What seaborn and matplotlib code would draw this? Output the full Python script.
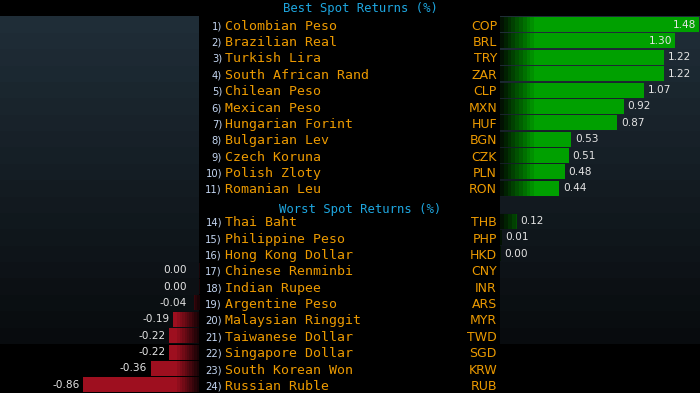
import numpy as np
import pandas as pd
import seaborn as sns
import matplotlib.pyplot as plt
from matplotlib.colors import to_rgb

best_ranks = list(range(1, 12))
best_names = ['Colombian Peso', 'Brazilian Real', 'Turkish Lira', 'South African Rand',
              'Chilean Peso', 'Mexican Peso', 'Hungarian Forint', 'Bulgarian Lev',
              'Czech Koruna', 'Polish Zloty', 'Romanian Leu']
best_codes = ['COP', 'BRL', 'TRY', 'ZAR', 'CLP', 'MXN', 'HUF', 'BGN', 'CZK', 'PLN', 'RON']
best_values = [1.48, 1.30, 1.22, 1.22, 1.07, 0.92, 0.87, 0.53, 0.51, 0.48, 0.44]

worst_ranks = list(range(14, 25))
worst_names = ['Thai Baht', 'Philippine Peso', 'Hong Kong Dollar', 'Chinese Renminbi',
               'Indian Rupee', 'Argentine Peso', 'Malaysian Ringgit', 'Taiwanese Dollar',
               'Singapore Dollar', 'South Korean Won', 'Russian Ruble']
worst_codes = ['THB', 'PHP', 'HKD', 'CNY', 'INR', 'ARS', 'MYR', 'TWD', 'SGD', 'KRW', 'RUB']
# HKD shows 0.00 on the plus side, CNY / INR show 0.00 on the minus side
worst_values = [0.12, 0.01, 0.003, -0.002, -0.003, -0.04, -0.19, -0.22, -0.22, -0.36, -0.86]

best_title = 'Best Spot Returns (%)'
worst_title = 'Worst Spot Returns (%)'

GREEN = '#00a000'
GREEN_DARK = '#021202'
RED = '#9e0f1f'
RED_DARK = '#1a0306'
ORANGE = '#ec9a00'
CYAN = '#1ea6df'
RANK_COL = '#c4d6f2'
VAL_COL = '#e4e4e4'
BAND_TOP = '#1f2d37'
BAND_BOTTOM = '#080b0e'

W, H = 700, 393
PX = 134.5  # pixels per 1 %

best_df = pd.DataFrame({'rank': best_ranks, 'name': best_names,
                        'code': best_codes, 'value': best_values})
best_df['slot'] = np.arange(len(best_df))
worst_df = pd.DataFrame({'rank': worst_ranks, 'name': worst_names,
                         'code': worst_codes, 'value': worst_values})
worst_df['slot'] = np.arange(len(worst_df)) + len(best_df) + 1
df = pd.concat([best_df, worst_df], ignore_index=True)

last_slot = df['slot'].max()
ylim = (last_slot + 0.5, -1.5)
n_bands = 20


def shade(ax, patch, x0, x1, c_from, c_to, steps=10):
    t = np.linspace(0, 1, steps)[:, None]
    cols = (1 - t) * np.array(to_rgb(c_from)) + t * np.array(to_rgb(c_to))
    y0, h = patch.get_y(), patch.get_height()
    im = ax.imshow(cols[None, :, :], extent=(x0, x1, y0 + h, y0), aspect='auto',
                   interpolation='nearest', zorder=patch.get_zorder() + 0.1)
    im.set_clip_path(patch)


def bands(ax):
    top, bot = np.array(to_rgb(BAND_TOP)), np.array(to_rgb(BAND_BOTTOM))
    for i in range(n_bands):
        t = i / (n_bands - 1)
        ax.axhspan(i - 0.5, i + 0.5, color=(1 - t) * top + t * bot, lw=0, zorder=0)


fig = plt.figure(figsize=(W / 100, H / 100), dpi=100, facecolor='black')

# text layer in pixel coordinates
ax_txt = fig.add_axes([0, 0, 1, 1])
ax_txt.set_xlim(0, W)
ax_txt.set_ylim(*ylim)
ax_txt.set_axis_off()

ax_txt.text(360, -1, best_title, color=CYAN, ha='center', va='center',
            family='DejaVu Sans Mono', fontsize=8.8)
ax_txt.text(360, len(best_df) + 0.3, worst_title, color=CYAN, ha='center', va='center',
            family='DejaVu Sans Mono', fontsize=8.8)

for _, r in df.iterrows():
    y = r['slot'] + 0.1
    ax_txt.text(222, y, f"{r['rank']})", color=RANK_COL, ha='right', va='center',
                family='DejaVu Sans', fontsize=7.2)
    ax_txt.text(225, y, r['name'], color=ORANGE, ha='left', va='center',
                family='DejaVu Sans Mono', fontsize=9.5)
    ax_txt.text(497, y, r['code'], color=ORANGE, ha='right', va='center',
                family='DejaVu Sans', fontsize=9)

pos = df[df['value'] >= 0]
neg = df[df['value'] < 0]

# right panel: gains
ax_r = fig.add_axes([500 / W, 0, 200 / W, 1])
sns.barplot(data=pos, x='value', y='slot', orient='y', native_scale=True,
            color=GREEN, saturation=1, width=0.92, errorbar=None, ax=ax_r)
xmax_r = 200 / PX
for patch in ax_r.containers[0]:
    shade(ax_r, patch, 0, 38 / PX, GREEN_DARK, GREEN)
bands(ax_r)
for _, r in pos.iterrows():
    v = r['value']
    lab = f"{round(v, 2) + 0.0:.2f}"
    if v * PX + 30 > 200:
        ax_r.text(v - 3 / PX, r['slot'], lab, color=VAL_COL, ha='right', va='center',
                  fontsize=7.6)
    else:
        ax_r.text(v + 4 / PX, r['slot'], lab, color=VAL_COL, ha='left', va='center',
                  fontsize=7.6)
ax_r.set_xlim(0, xmax_r)
ax_r.set_ylim(*ylim)
ax_r.set_axis_off()

# left panel: losses
ax_l = fig.add_axes([0, 0, 199 / W, 1])
sns.barplot(data=neg, x='value', y='slot', orient='y', native_scale=True,
            color=RED, saturation=1, width=0.92, errorbar=None, ax=ax_l)
for patch in ax_l.containers[0]:
    shade(ax_l, patch, -24 / PX, 0, RED, RED_DARK)
bands(ax_l)
for _, r in neg.iterrows():
    v = r['value']
    lab = f"{round(v, 2) + 0.0:.2f}"
    ax_l.text(min(v, -0.06) - 4 / PX, r['slot'], lab, color=VAL_COL, ha='right',
              va='center', fontsize=7.6)
ax_l.set_xlim(-199 / PX, 0)
ax_l.set_ylim(*ylim)
ax_l.set_axis_off()

fig.savefig('out.png', dpi=100, facecolor='black')
